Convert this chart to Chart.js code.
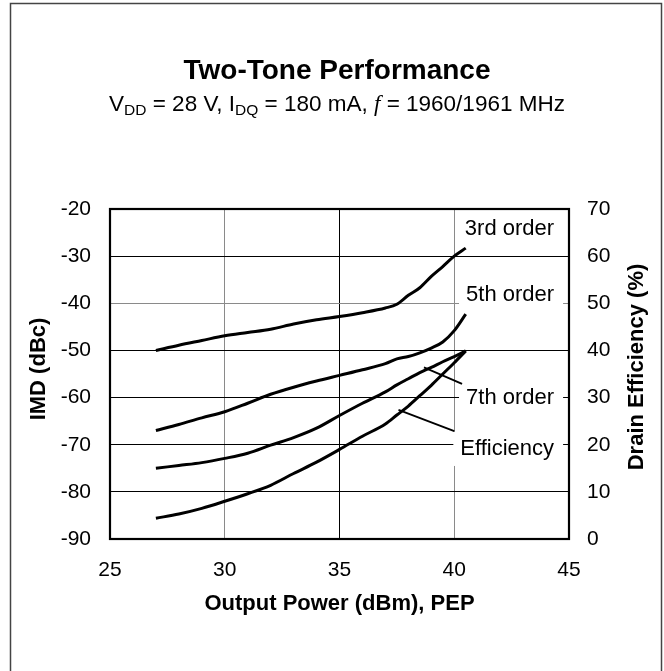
<!DOCTYPE html>
<html><head><meta charset="utf-8">
<script src="https://cdn.jsdelivr.net/npm/chart.js@4/dist/chart.umd.min.js"></script>
<style>html,body{margin:0;padding:0;background:#fff;}#wrap{position:relative;width:664px;height:671px;}</style>
</head><body><div id="wrap"><canvas id="c" width="664" height="671"></canvas></div>
<script>
// ---- data ----
const outputPower = [27, 28, 29, 30, 31, 32, 33, 34, 35, 36, 37, 37.5, 38, 38.5, 39, 39.5, 40, 40.5];
const imd3rd = [-50.0, -48.9, -47.9, -46.9, -46.2, -45.5, -44.4, -43.5, -42.8, -42.0, -41.0, -40.2, -38.3, -36.7, -34.3, -32.2, -30.0, -28.3];
const imd5th = [-67.0, -65.7, -64.3, -63.0, -61.2, -59.3, -57.8, -56.5, -55.3, -54.1, -52.8, -51.8, -51.3, -50.5, -49.5, -48.2, -45.8, -42.3];
const imd7th = [-75.0, -74.4, -73.8, -72.9, -71.8, -70.1, -68.5, -66.5, -63.8, -61.2, -58.8, -57.3, -56.0, -54.7, -53.6, -52.4, -51.3, -50.1];
const drainEfficiency = [4.4, 5.3, 6.5, 8.0, 9.6, 11.4, 13.9, 16.3, 19.0, 21.8, 24.4, 26.3, 28.2, 30.4, 32.6, 35.0, 37.4, 39.9];
const xTickValues = [25, 30, 35, 40, 45];
const imdTickValues = [-90, -80, -70, -60, -50, -40, -30, -20];
const effTickValues = [0, 10, 20, 30, 40, 50, 60, 70];
const seriesNames = ['3rd order', '5th order', '7th order', 'Efficiency'];
const chartTitle = 'Two-Tone Performance';
const xAxisTitle = 'Output Power (dBm), PEP';
const yAxisTitle = 'IMD (dBc)';
const y1AxisTitle = 'Drain Efficiency (%)';

// ---- annotation placement (data units of x / left axis) ----
const labelAnchorX = 44.35;
const labelAnchorY = [-24.3, -38.3, -60.0, -70.9];
const leaderLines = [
  [[38.68, -53.6], [40.34, -57.1]],
  [[37.57, -62.6], [40.0, -67.1]]
];

const FONT = "'Liberation Sans', Arial, Helvetica, sans-serif";
Chart.defaults.font.family = FONT;
Chart.defaults.color = '#000';

const pts = arr => outputPower.map((x, i) => ({x: x, y: arr[i]}));
const lineStyle = {borderColor: '#000', backgroundColor: '#000', borderWidth: 3, pointRadius: 0, tension: 0.15, cubicInterpolationMode: 'monotone', fill: false};

const annot = {
  id: 'annot',
  beforeDraw(chart) {
    const ctx = chart.ctx;
    ctx.save();
    ctx.fillStyle = '#fff';
    ctx.fillRect(0, 0, chart.width, chart.height);
    ctx.strokeStyle = '#444';
    ctx.lineWidth = 1.5;
    ctx.strokeRect(10.5, 3.5, 651, 700);
    ctx.restore();
  },
  beforeDatasetsDraw(chart) {
    const {ctx, scales: {x, y}} = chart;
    ctx.save();
    ctx.font = '22px ' + FONT;
    ctx.textBaseline = 'middle';
    ctx.textAlign = 'right';
    seriesNames.forEach((t, i) => {
      const px = x.getPixelForValue(labelAnchorX);
      const py = y.getPixelForValue(labelAnchorY[i]);
      const w = ctx.measureText(t).width;
      ctx.fillStyle = '#fff';
      ctx.fillRect(px - w - 7, py - 17, w + 16, 34);
      ctx.fillStyle = '#000';
      ctx.fillText(t, px, py);
    });
    ctx.restore();
  },
  afterDatasetsDraw(chart) {
    const {ctx, chartArea: a, scales: {x, y}} = chart;
    ctx.save();
    ctx.strokeStyle = '#000';
    ctx.lineWidth = 1.8;
    leaderLines.forEach(l => {
      ctx.beginPath();
      ctx.moveTo(x.getPixelForValue(l[0][0]), y.getPixelForValue(l[0][1]));
      ctx.lineTo(x.getPixelForValue(l[1][0]), y.getPixelForValue(l[1][1]));
      ctx.stroke();
    });
    ctx.lineWidth = 2.2;
    ctx.strokeRect(a.left, a.top, a.right - a.left, a.bottom - a.top);
    ctx.restore();
  },
  afterDraw(chart) {
    const {ctx, chartArea: a} = chart;
    ctx.save();
    ctx.fillStyle = '#000';
    // title
    ctx.font = 'bold 28px ' + FONT;
    ctx.textAlign = 'center';
    ctx.textBaseline = 'alphabetic';
    ctx.fillText(chartTitle, 337, 78.5);
    // subtitle with subscripts
    const segs = [
      {t: 'V', f: '22.5px ' + FONT, dy: 0},
      {t: 'DD', f: '15.5px ' + FONT, dy: 4},
      {t: ' = 28 V, I', f: '22.5px ' + FONT, dy: 0},
      {t: 'DQ', f: '15.5px ' + FONT, dy: 4},
      {t: ' = 180 mA, ', f: '22.5px ' + FONT, dy: 0},
      {t: 'f', f: 'italic 23px "Liberation Serif", "Times New Roman", serif', dy: 0},
      {t: ' = 1960/1961 MHz', f: '22.5px ' + FONT, dy: 0}
    ];
    let total = 0;
    segs.forEach(s => { ctx.font = s.f; s.w = ctx.measureText(s.t).width; total += s.w; });
    let sx = 337 - total / 2;
    ctx.textAlign = 'left';
    segs.forEach(s => { ctx.font = s.f; ctx.fillText(s.t, sx, 111 + s.dy); sx += s.w; });
    // axis titles
    ctx.font = 'bold 22px ' + FONT;
    ctx.textAlign = 'center';
    ctx.textBaseline = 'middle';
    ctx.fillText(xAxisTitle, (a.left + a.right) / 2, 604);
    ctx.save();
    ctx.translate(38.6, 369);
    ctx.rotate(-Math.PI / 2);
    ctx.fillText(yAxisTitle, 0, 0);
    ctx.restore();
    ctx.save();
    ctx.translate(637, 367);
    ctx.rotate(-Math.PI / 2);
    ctx.fillText(y1AxisTitle, 0, 0);
    ctx.restore();
    ctx.restore();
  }
};

new Chart(document.getElementById('c'), {
  type: 'line',
  data: {
    datasets: [
      Object.assign({label: seriesNames[0], data: pts(imd3rd), yAxisID: 'y'}, lineStyle),
      Object.assign({label: seriesNames[1], data: pts(imd5th), yAxisID: 'y'}, lineStyle),
      Object.assign({label: seriesNames[2], data: pts(imd7th), yAxisID: 'y'}, lineStyle),
      Object.assign({label: seriesNames[3], data: pts(drainEfficiency), yAxisID: 'y1'}, lineStyle)
    ]
  },
  options: {
    responsive: false,
    animation: false,
    devicePixelRatio: 1,
    layout: {padding: {top: 209, left: 0, right: 0, bottom: 0}},
    plugins: {legend: {display: false}, title: {display: false}, tooltip: {enabled: false}},
    scales: {
      x: {
        type: 'linear', min: 25, max: 45,
        afterBuildTicks: s => { s.ticks = xTickValues.map(v => ({value: v})); },
        afterFit: s => { s.height = 132; },
        ticks: {font: {size: 21}, color: '#000', padding: 19, maxRotation: 0},
        grid: {drawTicks: false, lineWidth: 1, color: c => (c.tick && (c.tick.value === 30 || c.tick.value === 40)) ? '#8a8a8a' : '#000'},
        border: {display: false}
      },
      y: {
        type: 'linear', position: 'left', min: -90, max: -20,
        afterBuildTicks: s => { s.ticks = imdTickValues.map(v => ({value: v})); },
        afterFit: s => { s.width = 110; },
        ticks: {font: {size: 21}, color: '#000', padding: 19},
        grid: {drawTicks: false, lineWidth: 1, color: c => (c.tick && c.tick.value === -40) ? '#8a8a8a' : '#000'},
        border: {display: false}
      },
      y1: {
        type: 'linear', position: 'right', min: 0, max: 70,
        afterBuildTicks: s => { s.ticks = effTickValues.map(v => ({value: v})); },
        afterFit: s => { s.width = 95; },
        ticks: {font: {size: 21}, color: '#000', padding: 18},
        grid: {display: false, drawTicks: false},
        border: {display: false}
      }
    }
  },
  plugins: [annot]
});
</script>
</body></html>
